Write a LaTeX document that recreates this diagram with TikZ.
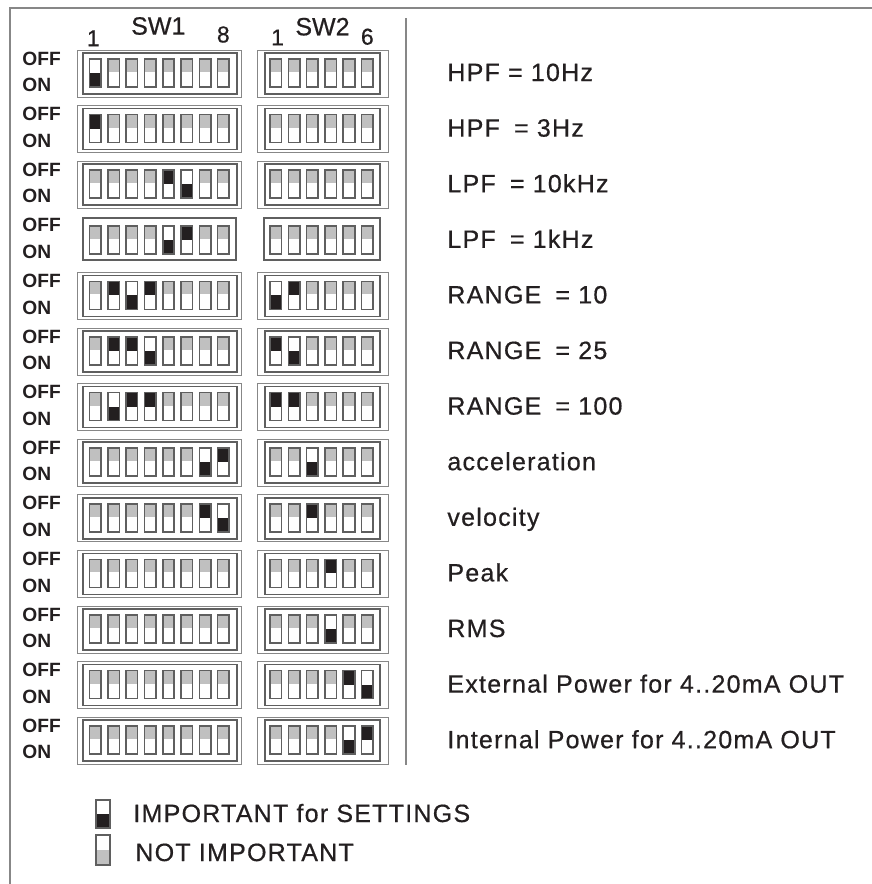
\documentclass[tikz,border=0pt]{standalone}
\usepackage{fontspec}
\setmainfont{Liberation Sans}
\newfontfamily\lblfont[LetterSpace=5.0,FakeBold=0.6]{Liberation Sans}
\newfontfamily\hdrfont[FakeBold=0.6]{Liberation Sans}
\usepackage{tikz}
\usetikzlibrary{positioning}
\definecolor{SwGray}{RGB}{192,192,192}
\definecolor{SwLine}{RGB}{95,95,95}
\definecolor{SwBlack}{RGB}{35,31,32}
\definecolor{FrameGray}{RGB}{135,135,135}
\tikzset{
  x=0.5pt, y=-0.5pt,
  % testi
  onoff/.style={font=\bfseries\fontsize{9.6}{9.6}\selectfont,inner sep=0,text=SwBlack},
  hdr/.style={font=\hdrfont\fontsize{12.5}{12.5}\selectfont,inner sep=0,text=SwBlack},
  hdrnum/.style={font=\hdrfont\fontsize{11.5}{11.5}\selectfont,inner sep=0,text=SwBlack},
  lbl/.style={font=\lblfont\fontsize{12.5}{12.5}\selectfont,inner sep=0,text=SwBlack},
  % interruttori
  boxout/.style={draw=FrameGray,line width=0.5pt},
  boxin/.style={draw=SwLine,line width=0.8pt},
  cellline/.style={draw=SwLine,line width=0.8pt},
  notimp/.style={fill=SwGray},
  imp/.style={fill=SwBlack},
  % cornice
  frame/.style={draw=FrameGray,line width=1pt}
}
% stato: 0 = non importante, 1 = OFF, 2 = ON
\newcommand{\dipcell}[3]{%
  \ifcase#3
    \fill[notimp] (#1,#2+9) rectangle ++(11.5,13);
  \or
    \fill[imp] (#1,#2+9) rectangle ++(11.5,14);
  \or
    \fill[imp] (#1,#2+23) rectangle ++(11.5,14);
  \fi
  \draw[cellline] (#1,#2+9) rectangle ++(11.5,28);
}
\newcommand{\diprow}[5]{%
  \pgfmathsetmacro\yt{50+55.6*(#1-1)}
  \node[onoff,anchor=west] (off#1) at (22,\yt+8.5) {OFF};
  \node[onoff,anchor=west] (on#1) at (22,\yt+35) {ON};
  \ifnum#5=1
    \draw[boxout] (77,\yt) rectangle (241,\yt+47);
    \draw[boxin] (83,\yt+3) rectangle (237,\yt+44);
    \draw[boxout] (257,\yt) rectangle (388,\yt+47);
    \draw[boxin] (265,\yt+3) rectangle (380,\yt+44);
  \else
    \draw[boxin] (83,\yt+1) rectangle (236,\yt+43);
    \draw[boxin] (264,\yt+1) rectangle (380,\yt+43);
  \fi
  \foreach \s [count=\j] in {#2} {
    \pgfmathsetmacro\cx{89.5+18.3*(\j-1)}
    \dipcell{\cx}{\yt}{\s}
  }
  \foreach \s [count=\j] in {#3} {
    \pgfmathsetmacro\cx{270+18.3*(\j-1)}
    \dipcell{\cx}{\yt}{\s}
  }
  \node[lbl,anchor=base west] (lbl#1) at (447,\yt+31) {#4};
}

\begin{document}
\begin{tikzpicture}
  \useasboundingbox (0,0) rectangle (872,884);
  \draw[frame] (872,8) -- (10,8) -- (10,884);
  \draw[frame] (406,18) -- (406,765);

  \node[hdrnum] (sw1a) at (93.3,38.3) {1};
  \node[hdr] (sw1) at (158.3,26) {SW1};
  \node[hdrnum] (sw1b) at (223.3,34.5) {8};
  \node[hdrnum] (sw2a) at (277.5,37.5) {1};
  \node[hdr] (sw2) at (322.5,26.7) {SW2};
  \node[hdrnum] (sw2b) at (367.3,36.7) {6};

  \diprow{1}{2,0,0,0,0,0,0,0}{0,0,0,0,0,0}{HPF = 10Hz}{1}
  \diprow{2}{1,0,0,0,0,0,0,0}{0,0,0,0,0,0}{HPF\hspace{3pt} = 3Hz}{1}
  \diprow{3}{0,0,0,0,1,2,0,0}{0,0,0,0,0,0}{LPF\hspace{3pt} = 10kHz}{1}
  \diprow{4}{0,0,0,0,2,1,0,0}{0,0,0,0,0,0}{LPF\hspace{3pt} = 1kHz}{0}
  \diprow{5}{0,1,2,1,0,0,0,0}{2,1,0,0,0,0}{RANGE\hspace{3pt} = 10}{1}
  \diprow{6}{0,1,1,2,0,0,0,0}{1,2,0,0,0,0}{RANGE\hspace{3pt} = 25}{1}
  \diprow{7}{0,2,1,1,0,0,0,0}{1,1,0,0,0,0}{RANGE\hspace{3pt} = 100}{1}
  \diprow{8}{0,0,0,0,0,0,2,1}{0,0,2,0,0,0}{acceleration}{1}
  \diprow{9}{0,0,0,0,0,0,1,2}{0,0,1,0,0,0}{velocity}{1}
  \diprow{10}{0,0,0,0,0,0,0,0}{0,0,0,1,0,0}{Peak}{1}
  \diprow{11}{0,0,0,0,0,0,0,0}{0,0,0,2,0,0}{RMS}{1}
  \diprow{12}{0,0,0,0,0,0,0,0}{0,0,0,0,1,2}{External Power for 4..20mA OUT}{1}
  \diprow{13}{0,0,0,0,0,0,0,0}{0,0,0,0,2,1}{Internal Power for 4..20mA OUT}{1}

  \fill[imp] (96,814) rectangle (110,828);
  \draw[cellline] (96,800) rectangle (110,828);
  \fill[notimp] (96,850) rectangle (110,865);
  \draw[cellline] (96,835) rectangle (110,865);
  \node[lbl,anchor=base west] (legimp) at (133,822) {IMPORTANT for SETTINGS};
  \node[lbl,anchor=base west] (legnot) at (135,861) {NOT IMPORTANT};
\end{tikzpicture}
\end{document}
